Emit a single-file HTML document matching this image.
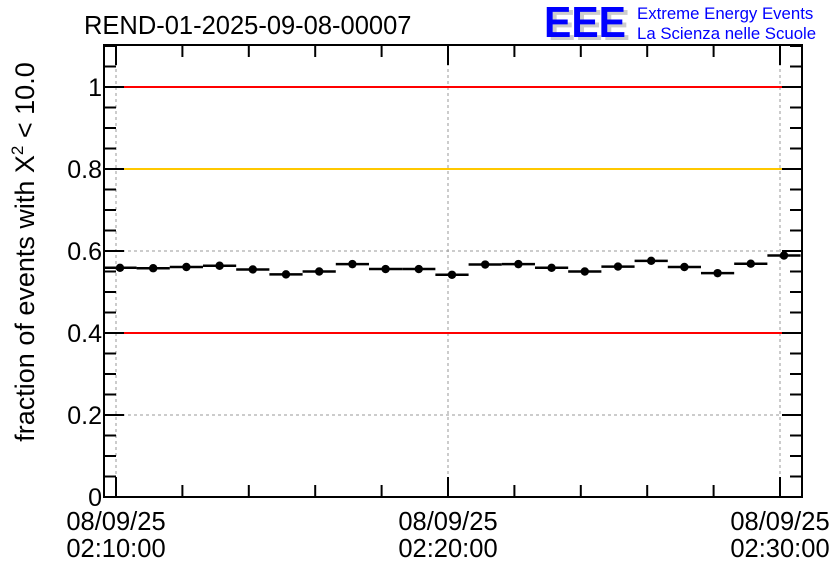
<!DOCTYPE html>
<html><head><meta charset="utf-8"><style>
body{margin:0;background:#fff;}
svg{display:block;font-family:"Liberation Sans",sans-serif;}
</style></head><body>
<svg id="chart" width="836" height="572" viewBox="0 0 836 572">
<text x="84" y="34" font-size="25.5">REND-01-2025-09-08-00007</text>
<g>
<text x="548" y="40" font-size="44" font-weight="bold" fill="#ccc" textLength="82" lengthAdjust="spacingAndGlyphs">EEE</text>
<text x="544" y="37" font-size="44" font-weight="bold" fill="#0000ff" textLength="82" lengthAdjust="spacingAndGlyphs">EEE</text>
<text x="637" y="19" font-size="16.8" fill="#0000ff">Extreme Energy Events</text>
<text x="637" y="39" font-size="16.8" fill="#0000ff">La Scienza nelle Scuole</text>
</g>
<g id="grid"></g>
<g id="lines"></g>
<g id="marks"></g>
<g id="axes"></g>
<text transform="translate(34,252) rotate(-90)" font-size="27" text-anchor="middle">fraction of events with Χ<tspan dy="-11" font-size="17">2</tspan><tspan dy="11"> &lt; 10.0</tspan></text>
</svg>
<script>
const values=[0.559,0.558,0.561,0.564,0.555,0.543,0.550,0.568,0.556,0.556,0.542,0.567,0.568,0.559,0.550,0.562,0.576,0.561,0.546,0.569,0.589];
const errors=[0.006,0.006,0.006,0.006,0.006,0.006,0.006,0.006,0.006,0.006,0.006,0.006,0.006,0.006,0.006,0.006,0.006,0.006,0.006,0.006,0.006];
const yTicks=[0,0.2,0.4,0.6,0.8,1];
const yTickLabels=["0","0.2","0.4","0.6","0.8","1"];
const xTickMinutes=[0,10,20];
const xTickLabels=[["08/09/25","02:10:00"],["08/09/25","02:20:00"],["08/09/25","02:30:00"]];
const refLines=[{v:1,c:"#ff0000"},{v:0.8,c:"#ffc800"},{v:0.4,c:"#ff0000"}];
const L=104,R=802,T=45,B=497;
const y=v=>B-v*410;
const x=m=>116+m*33.2;
const NS="http://www.w3.org/2000/svg";
function mk(tag,parent,attrs){const e=document.createElementNS(NS,tag);for(const k in attrs)e.setAttribute(k,attrs[k]);parent.appendChild(e);return e;}
const grid=document.getElementById('grid'),lines=document.getElementById('lines'),marks=document.getElementById('marks'),axes=document.getElementById('axes');
xTickMinutes.forEach(m=>{const e=mk('line',grid,{x1:x(m),x2:x(m),y1:T,y2:B,stroke:'#999','stroke-dasharray':'3,3'});

});
yTicks.forEach(v=>{if(v===0)return;const e=mk('line',grid,{x1:L,x2:R,y1:y(v),y2:y(v),stroke:'#999','stroke-dasharray':'3,3'});

});
refLines.forEach(r=>{const e=mk('line',lines,{x1:L,x2:R,y1:y(r.v),y2:y(r.v),stroke:r.c,'stroke-width':2});

});
values.forEach((v,i)=>{const g=mk('g',marks,{});


const cx=x(i+0.12);
mk('line',g,{x1:Math.max(L,cx-16.6),x2:cx+16.6,y1:y(v),y2:y(v),stroke:'#000','stroke-width':2.5});
mk('line',g,{x1:cx,x2:cx,y1:y(v+errors[i]),y2:y(v-errors[i]),stroke:'#000','stroke-width':2});
mk('circle',g,{cx:cx,cy:y(v),r:4.2,fill:'#000'});});
const fr=mk('rect',axes,{x:L,y:T,width:R-L,height:B-T,fill:'none',stroke:'#000','stroke-width':2});


for(let v=0;v<=1.1001;v+=0.05){const maj=Math.abs(v*5-Math.round(v*5))<1e-6;const len=maj?20:12;
mk('line',axes,{x1:L,x2:L+len,y1:y(v),y2:y(v),stroke:'#000','stroke-width':2});
mk('line',axes,{x1:R,x2:R-len,y1:y(v),y2:y(v),stroke:'#000','stroke-width':2});}
for(let m=0;m<=20;m+=2){const maj=m%10===0;const len=maj?20:12;
mk('line',axes,{x1:x(m),x2:x(m),y1:B,y2:B-len,stroke:'#000','stroke-width':2});
mk('line',axes,{x1:x(m),x2:x(m),y1:T,y2:T+len,stroke:'#000','stroke-width':2});}
yTicks.forEach((v,i)=>{const t=mk('text',axes,{x:L-2,y:y(v)+9,'font-size':25,'text-anchor':'end'});t.textContent=yTickLabels[i];

});
xTickMinutes.forEach((m,i)=>{const t=mk('text',axes,{x:x(m),y:530,'font-size':25.5,'text-anchor':'middle'});t.textContent=xTickLabels[i][0];


const t2=mk('text',axes,{x:x(m),y:557,'font-size':25.5,'text-anchor':'middle'});t2.textContent=xTickLabels[i][1];

});
</script>
</body></html>
